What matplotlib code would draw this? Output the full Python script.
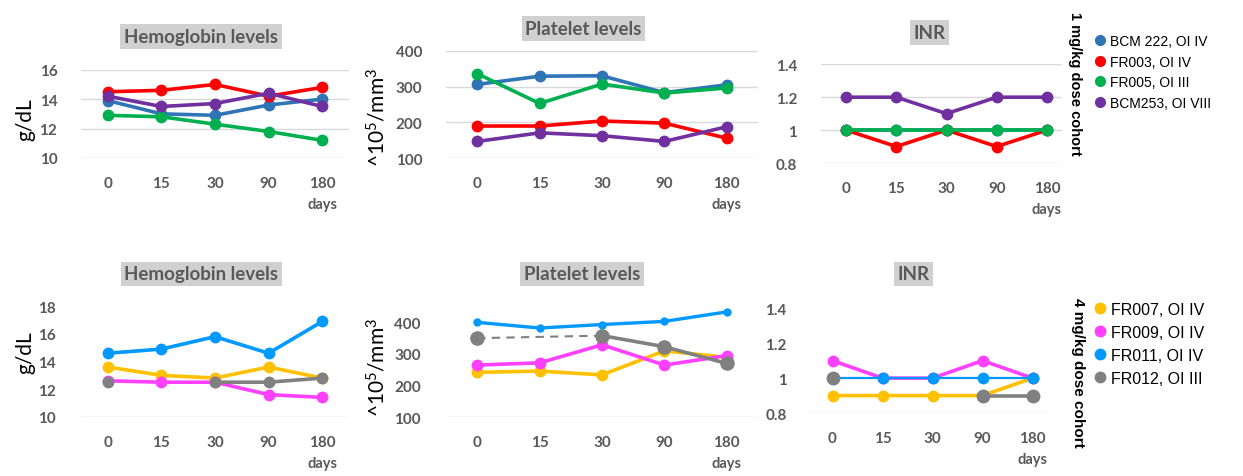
import numpy as np
import matplotlib
matplotlib.use("Agg")
import matplotlib.pyplot as plt
from matplotlib.lines import Line2D

plt.rcParams['mathtext.default'] = 'regular'

days = ['0', '15', '30', '90', '180']

# 1 mg/kg cohort
c1_names = ['BCM 222, OI IV', 'FR003, OI IV', 'FR005, OI III', 'BCM253, OI VIII']
c1_colors = ['#2E75B6', '#FF0000', '#00B050', '#7030A0']
hgb_bcm222 = [13.9, 13.0, 12.9, 13.6, 14.0]
hgb_fr003 = [14.5, 14.6, 15.0, 14.2, 14.8]
hgb_fr005 = [12.9, 12.8, 12.3, 11.8, 11.2]
hgb_bcm253 = [14.2, 13.5, 13.7, 14.4, 13.5]
plt_bcm222 = [306, 329, 330, 283, 305]
plt_fr003 = [190, 190, 204, 198, 156]
plt_fr005 = [336, 253, 307, 282, 296]
plt_bcm253 = [147, 171, 163, 147, 188]
inr_bcm222 = [1.0, 1.0, 1.0, 1.0, 1.0]
inr_fr003 = [1.0, 0.9, 1.0, 0.9, 1.0]
inr_fr005 = [1.0, 1.0, 1.0, 1.0, 1.0]
inr_bcm253 = [1.2, 1.2, 1.1, 1.2, 1.2]

# 4 mg/kg cohort
c4_names = ['FR007, OI IV', 'FR009, OI IV', 'FR011, OI IV', 'FR012, OI III']
c4_colors = ['#FFC000', '#FF40FF', '#0099FF', '#808080']
nan = np.nan
hgb_fr007 = [13.6, 13.0, 12.8, 13.6, 12.8]
hgb_fr009 = [12.6, 12.5, 12.5, 11.6, 11.4]
hgb_fr011 = [14.6, 14.9, 15.8, 14.6, 16.9]
hgb_fr012 = [12.5, nan, 12.5, 12.5, 12.8]
plt_fr007 = [242, 246, 234, 310, 289]
plt_fr009 = [265, 272, 329, 265, 295]
plt_fr011 = [400, 382, 393, 403, 433]
plt_fr012 = [350, nan, 358, 323, 270]
inr_fr007 = [0.9, 0.9, 0.9, 0.9, 1.0]
inr_fr009 = [1.1, 1.0, 1.0, 1.1, 1.0]
inr_fr011 = [1.0, 1.0, 1.0, 1.0, 1.0]
inr_fr012 = [1.0, nan, nan, 0.9, 0.9]

W, H = 1243, 477
TICK = '#595959'
GRID = '#D9D9D9'
BOX = '#D0D0D0'
TFONT = 'Lato'
AFONT = 'Liberation Sans'

fig = plt.figure(figsize=(W / 100, H / 100), dpi=100)


def px_axes(x0, x1, ybot, ytop):
    return fig.add_axes([x0 / W, 1 - ybot / H, (x1 - x0) / W, (ybot - ytop) / H])


def setup(ax, ylim, yticks, xlim, grid, ypad, yfmt=None):
    x = np.arange(len(days))
    ax.set_xlim(*xlim)
    ax.set_ylim(*ylim)
    ax.set_xticks(x)
    ax.set_xticklabels(days)
    ax.set_yticks(yticks)
    if yfmt:
        ax.set_yticklabels([yfmt(v) for v in yticks])
    for s in ax.spines.values():
        s.set_visible(False)
    if grid:
        for v in yticks:
            ax.axhline(v, color=GRID, lw=1, zorder=0)
    else:
        ax.axhline(ylim[0], color=GRID, lw=1, zorder=0)
    ax.tick_params(axis='both', length=0, labelcolor=TICK, labelsize=11)
    ax.tick_params(axis='x', pad=13)
    ax.tick_params(axis='y', pad=ypad)
    for lab in ax.get_xticklabels() + ax.get_yticklabels():
        lab.set_fontfamily(TFONT)
        lab.set_fontweight('bold')
    ax.annotate('days', xy=(4, 0), xycoords=('data', 'axes fraction'),
                xytext=(0, -46), textcoords='offset pixels', ha='center', va='center',
                color=TICK, fontsize=10.5, fontweight='bold', fontfamily=TFONT)
    ax.patch.set_alpha(0)


def draw(ax, series, colors, styles=None):
    x = np.arange(len(days))
    for i, (vals, col) in enumerate(zip(series, colors)):
        kw = dict(lw=2.6, ms=7.5)
        if styles and i in styles:
            kw.update(styles[i])
        ax.plot(x, vals, color=col, marker='o', clip_on=False, **kw)


def title_box(cx, cy, txt):
    fig.text(cx / W, 1 - cy / H, txt, ha='center', va='center', color=TICK,
             fontsize=13.5, fontweight='bold', fontfamily=TFONT,
             bbox=dict(boxstyle='square,pad=0.2', fc=BOX, ec='none'))


def ylabel(cx, cy, txt):
    fig.text(cx / W, 1 - cy / H, txt, ha='center', va='center', rotation=90,
             fontsize=15, fontfamily=TFONT, color='black')


inr_fmt = lambda v: '1' if v == 1 else '%.1f' % v

# ---- top row: 1 mg/kg ----
ax = px_axes(81, 349, 159, 70.7)
setup(ax, (10, 16), [10, 12, 14, 16], (-0.5, 4.5), True, 17)
draw(ax, [hgb_bcm222, hgb_fr003, hgb_fr005, hgb_bcm253], c1_colors)

ax = px_axes(446, 758, 159.3, 51.7)
setup(ax, (100, 400), [100, 200, 300, 400], (-0.5, 4.5), True, 17)
draw(ax, [plt_bcm222, plt_fr003, plt_fr005, plt_bcm253], c1_colors)

ax = px_axes(821, 1062, 164, 65.3)
setup(ax, (0.8, 1.4), [0.8, 1.0, 1.2, 1.4], (-0.5, 4.3), True, 17, inr_fmt)
draw(ax, [inr_bcm222, inr_fr003, inr_fr005, inr_bcm253], c1_colors)

# ---- bottom row: 4 mg/kg ----
ax = px_axes(81, 349, 417.7, 307.3)
setup(ax, (10, 18), [10, 12, 14, 16, 18], (-0.5, 4.5), False, 18)
draw(ax, [hgb_fr007, hgb_fr009, hgb_fr011, hgb_fr012], c4_colors)

ax = px_axes(446, 758, 418.3, 307.5)
setup(ax, (100, 450), [100, 200, 300, 400], (-0.5, 4.5), False, 18)
ax.plot([0, 2], [plt_fr012[0], plt_fr012[2]], color='#808080', lw=1.5, ls=(0, (4, 3)))
draw(ax, [plt_fr007, plt_fr009, plt_fr011, plt_fr012], c4_colors,
     {2: dict(ms=5, lw=2.4), 3: dict(ms=9.5)})

ax = px_axes(809, 1052, 414, 309.3)
setup(ax, (0.8, 1.4), [0.8, 1.0, 1.2, 1.4], (-0.47, 4.39), False, 16, inr_fmt)
draw(ax, [inr_fr007, inr_fr009, inr_fr011, inr_fr012], c4_colors,
     {2: dict(lw=1.6), 3: dict(ms=9)})

# titles
title_box(201, 37.5, 'Hemoglobin levels')
title_box(583.5, 29.5, 'Platelet levels')
title_box(929.5, 33.5, 'INR')
title_box(201.5, 275, 'Hemoglobin levels')
title_box(582, 275, 'Platelet levels')
title_box(913.5, 275, 'INR')

# axis labels
ylabel(25, 120, 'g/dL')
ylabel(25, 353, 'g/dL')
ylabel(377, 117, '^10$^{5}$/mm$^{3}$')
ylabel(377, 367, '^10$^{5}$/mm$^{3}$')

# cohort labels
fig.text(1075 / W, 1 - 84 / H, '1 mg/kg dose cohort', rotation=-90, ha='center', va='center',
         fontsize=10.5, fontweight='bold', fontfamily=AFONT)
fig.text(1078 / W, 1 - 373 / H, '4 mg/kg dose cohort', rotation=-90, ha='center', va='center',
         fontsize=11, fontweight='bold', fontfamily=AFONT)

# legends
h1 = [Line2D([], [], ls='none', marker='o', ms=7, color=c) for c in c1_colors]
fig.legend(h1, c1_names, loc='upper left', bbox_to_anchor=(1094 / W, 1 - 35 / H),
           frameon=False, handlelength=0.8, handletextpad=0.35, labelspacing=0.48,
           borderaxespad=0, borderpad=0, prop=dict(family=AFONT, size=10))
h4 = [Line2D([], [], ls='none', marker='o', ms=7.5, color=c) for c in c4_colors]
fig.legend(h4, c4_names, loc='upper left', bbox_to_anchor=(1094 / W, 1 - 303 / H),
           frameon=False, handlelength=0.75, handletextpad=0.3, labelspacing=0.5,
           borderaxespad=0, borderpad=0, prop=dict(family=AFONT, size=11.5))

fig.savefig('out.png', dpi=100)
